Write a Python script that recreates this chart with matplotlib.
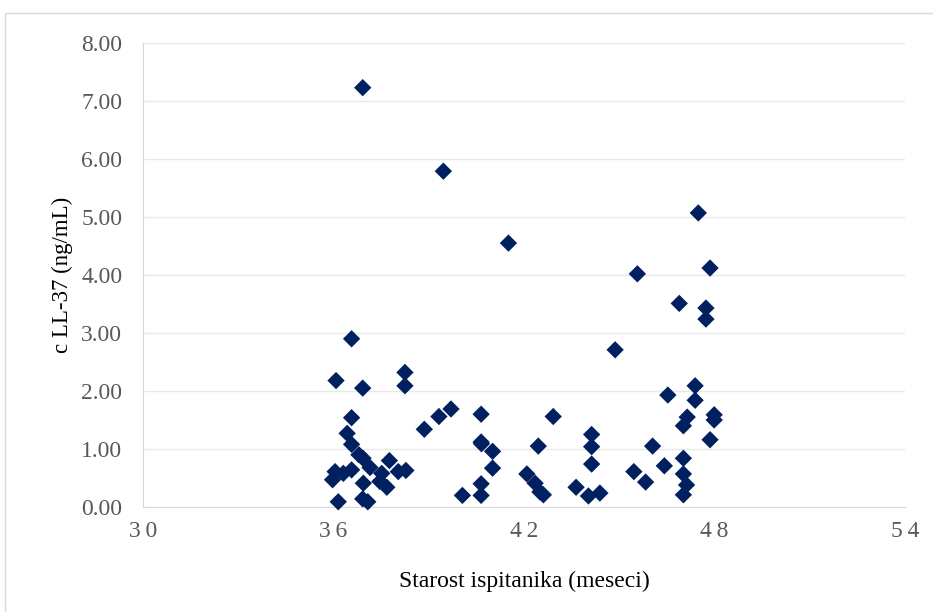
import matplotlib.pyplot as plt
from matplotlib.patches import Rectangle

# starost (meseci) i koncentracija LL-37 (ng/mL) po ispitaniku
age_months = [
    36.57, 36.08, 36.92, 38.25, 38.25, 36.57, 36.43, 36.57, 38.86, 36.80,
    36.93, 37.76, 37.15, 36.05, 35.97, 36.31, 36.57, 36.94, 37.52, 37.46,
    37.68, 38.04, 38.28, 36.15, 36.92, 37.08,
    39.32, 39.70, 40.65, 42.92, 40.65, 40.66, 41.01, 42.45, 41.01, 42.09,
    40.65, 40.65, 40.06, 42.35, 42.50, 42.61, 43.64, 39.46, 41.51, 36.92,
    44.13, 44.13, 44.13, 44.03, 44.39, 45.46, 45.83, 46.05, 47.49, 45.57,
    47.86, 46.89, 47.73, 47.73, 44.87, 47.39, 46.53, 47.39, 47.14, 47.02,
    47.99, 47.99, 47.86, 47.02, 46.42, 47.02, 47.12, 47.02,
]
ll37 = [
    2.90, 2.18, 2.05, 2.32, 2.09, 1.54, 1.27, 1.08, 1.34, 0.90,
    0.84, 0.80, 0.68, 0.61, 0.47, 0.58, 0.64, 0.41, 0.58, 0.44,
    0.34, 0.61, 0.63, 0.09, 0.14, 0.09,
    1.56, 1.69, 1.60, 1.56, 1.12, 1.09, 0.96, 1.05, 0.67, 0.57,
    0.40, 0.20, 0.20, 0.41, 0.26, 0.21, 0.34, 5.79, 4.55, 7.23,
    1.25, 1.04, 0.74, 0.19, 0.24, 0.61, 0.43, 1.05, 5.07, 4.02,
    4.12, 3.51, 3.43, 3.24, 2.71, 2.09, 1.93, 1.84, 1.55, 1.40,
    1.59, 1.50, 1.16, 0.84, 0.71, 0.57, 0.38, 0.21,
]
x_ticks = [30, 36, 42, 48, 54]
y_ticks = [0, 1, 2, 3, 4, 5, 6, 7, 8]

W, H = 933, 612
fig = plt.figure(figsize=(W / 100, H / 100), dpi=100)
plt.rcParams["font.family"] = ["Liberation Serif", "DejaVu Serif"]

# okvir oko grafikona
fig.patches.append(Rectangle((5 / W, -0.1), 1.2, (H - 13) / H + 0.1,
                             transform=fig.transFigure, fill=False,
                             edgecolor="#d9d9d9", linewidth=1.0))

ax = fig.add_axes([143 / W, (H - 507) / H, (905 - 143) / W, (507 - 43) / H])
ax.scatter(age_months, ll37, marker="D", s=78, color="#002060",
           edgecolors="none", zorder=3, clip_on=False)

ax.set_xlim(30, 54)
ax.set_ylim(0, 8)
ax.set_xticks(x_ticks)
ax.set_xticklabels(["\u2009".join(str(t)) for t in x_ticks])
ax.set_yticks(y_ticks)
ax.set_yticklabels([f"{v:.2f}" for v in y_ticks])
ax.tick_params(length=0, labelsize=17, labelcolor="#595959")
ax.tick_params(axis="x", pad=10)
ax.tick_params(axis="y", pad=15)

ax.grid(axis="y", color="#e8e8e8", linewidth=1.0)
ax.set_axisbelow(True)
for side in ("top", "right"):
    ax.spines[side].set_visible(False)
ax.spines["left"].set_color("#d9d9d9")
ax.spines["bottom"].set_color("#d9d9d9")

ax.set_xlabel("Starost ispitanika (meseci)", fontsize=17, labelpad=21)
ax.set_ylabel("c LL-37 (ng/mL)", fontsize=16.5, labelpad=6)

fig.savefig("out.png", dpi=100)
